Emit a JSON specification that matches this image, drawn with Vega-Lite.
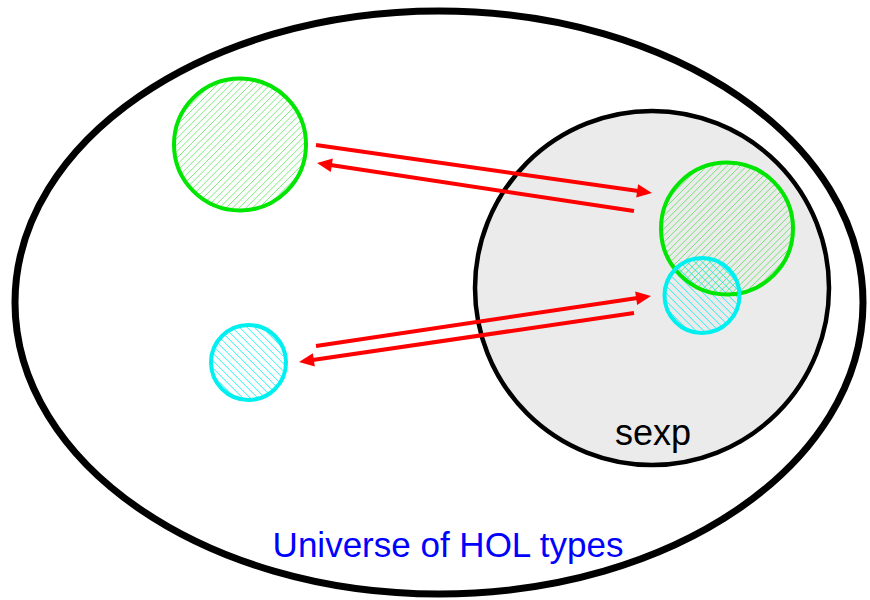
{
  "$schema": "https://vega.github.io/schema/vega-lite/v6.json",
  "width": 870,
  "height": 600,
  "padding": 0,
  "autosize": {"type": "none"},
  "background": "white",
  "config": {"view": {"stroke": null}},
  "datasets": {
    "ellipse": [{"name": "universe", "x": 439, "y": 302.5, "r": 424}],
    "circles": [
      {"name": "sexp", "kind": "sexp", "x": 652, "y": 288, "r": 177},
      {"name": "A", "kind": "green", "x": 240, "y": 144.5, "r": 66},
      {"name": "A'", "kind": "green", "x": 727, "y": 228.5, "r": 66},
      {"name": "B", "kind": "cyan", "x": 248.5, "y": 362.5, "r": 37.5},
      {"name": "B'", "kind": "cyan", "x": 702, "y": 295.5, "r": 37.5}
    ],
    "arrows": [
      {"id": 1, "x": 316, "y": 145, "x2": 652, "y2": 193},
      {"id": 2, "x": 634, "y": 211, "x2": 317, "y2": 163},
      {"id": 3, "x": 316, "y": 346, "x2": 651, "y2": 296},
      {"id": 4, "x": 634, "y": 313, "x2": 299, "y2": 362}
    ],
    "labels": [
      {"text": "sexp", "kind": "set", "x": 653, "y": 445},
      {"text": "Universe of HOL types", "kind": "universe", "x": 448, "y": 557}
    ]
  },
  "layer": [
    {
      "data": {"name": "ellipse"},
      "mark": {"type": "point", "shape": "M 1 0 C 1 0.3797 0.5523 0.6875 0 0.6875 C -0.5523 0.6875 -1 0.3797 -1 0 C -1 -0.3797 -0.5523 -0.6875 0 -0.6875 C 0.5523 -0.6875 1 -0.3797 1 0 Z", "filled": false, "stroke": "black", "strokeWidth": 7, "opacity": 1},
      "encoding": {
        "x": {"field": "x", "type": "quantitative", "scale": {"domain": [0, 870], "nice": false, "zero": false}, "axis": null},
        "y": {"field": "y", "type": "quantitative", "scale": {"domain": [0, 600], "nice": false, "zero": false, "reverse": true}, "axis": null},
        "size": {"field": "r", "type": "quantitative", "scale": {"type": "pow", "exponent": 2, "domain": [0, 100], "range": [0, 40000]}, "legend": null}
      }
    },
    {
      "data": {"name": "circles"},
      "transform": [{"filter": "datum.kind === 'sexp'"}],
      "mark": {"type": "point", "shape": "circle", "filled": true, "fill": "#ebebeb", "stroke": "black", "strokeWidth": 4.5, "opacity": 1},
      "encoding": {
        "x": {"field": "x", "type": "quantitative", "scale": {"domain": [0, 870], "nice": false, "zero": false}, "axis": null},
        "y": {"field": "y", "type": "quantitative", "scale": {"domain": [0, 600], "nice": false, "zero": false, "reverse": true}, "axis": null},
        "size": {"field": "r", "type": "quantitative", "scale": {"type": "pow", "exponent": 2, "domain": [0, 100], "range": [0, 40000]}, "legend": null}
      }
    },
    {
      "data": {"name": "circles"},
      "transform": [{"filter": "datum.kind === 'green'"}],
      "mark": {"type": "point", "filled": false, "stroke": "#22dd22", "strokeOpacity": 0.75, "strokeWidth": 0.8, "opacity": 1, "shape": "M -0.6817 0.7317 L 0.7317 -0.6817 M -0.6281 0.7781 L 0.7781 -0.6281 M -0.571 0.821 L 0.821 -0.571 M -0.5101 0.8601 L 0.8601 -0.5101 M -0.4454 0.8954 L 0.8954 -0.4454 M -0.3764 0.9264 L 0.9264 -0.3764 M -0.303 0.953 L 0.953 -0.303 M -0.2245 0.9745 L 0.9745 -0.2245 M -0.1401 0.9901 L 0.9901 -0.1401 M -0.0488 0.9988 L 0.9988 -0.0488 M 0.0513 0.9987 L 0.9987 0.0513 M 0.1634 0.9866 L 0.9866 0.1634 M 0.2943 0.9557 L 0.9557 0.2943 M 0.4643 0.8857 L 0.8857 0.4643 M -0.7317 0.6817 L 0.6817 -0.7317 M -0.7781 0.6281 L 0.6281 -0.7781 M -0.821 0.571 L 0.571 -0.821 M -0.8601 0.5101 L 0.5101 -0.8601 M -0.8954 0.4454 L 0.4454 -0.8954 M -0.9264 0.3764 L 0.3764 -0.9264 M -0.953 0.303 L 0.303 -0.953 M -0.9745 0.2245 L 0.2245 -0.9745 M -0.9901 0.1401 L 0.1401 -0.9901 M -0.9988 0.0488 L 0.0488 -0.9988 M -0.9987 -0.0513 L -0.0513 -0.9987 M -0.9866 -0.1634 L -0.1634 -0.9866 M -0.9557 -0.2943 L -0.2943 -0.9557 M -0.8857 -0.4643 L -0.4643 -0.8857"},
      "encoding": {
        "x": {"field": "x", "type": "quantitative", "scale": {"domain": [0, 870], "nice": false, "zero": false}, "axis": null},
        "y": {"field": "y", "type": "quantitative", "scale": {"domain": [0, 600], "nice": false, "zero": false, "reverse": true}, "axis": null},
        "size": {"field": "r", "type": "quantitative", "scale": {"type": "pow", "exponent": 2, "domain": [0, 100], "range": [0, 40000]}, "legend": null}
      }
    },
    {
      "data": {"name": "circles"},
      "transform": [{"filter": "datum.kind === 'cyan'"}],
      "mark": {"type": "point", "filled": false, "stroke": "#00eeee", "strokeOpacity": 0.85, "strokeWidth": 1, "opacity": 1, "shape": "M 0.6553 0.7553 L -0.7553 -0.6553 M 0.541 0.841 L -0.841 -0.541 M 0.4114 0.9114 L -0.9114 -0.4114 M 0.2644 0.9644 L -0.9644 -0.2644 M 0.0954 0.9954 L -0.9954 -0.0954 M -0.1056 0.9944 L -0.9944 0.1056 M -0.3716 0.9284 L -0.9284 0.3716 M -0.6553 -0.7553 L 0.7553 0.6553 M -0.541 -0.841 L 0.841 0.541 M -0.4114 -0.9114 L 0.9114 0.4114 M -0.2644 -0.9644 L 0.9644 0.2644 M -0.0954 -0.9954 L 0.9954 0.0954 M 0.1056 -0.9944 L 0.9944 -0.1056 M 0.3716 -0.9284 L 0.9284 -0.3716"},
      "encoding": {
        "x": {"field": "x", "type": "quantitative", "scale": {"domain": [0, 870], "nice": false, "zero": false}, "axis": null},
        "y": {"field": "y", "type": "quantitative", "scale": {"domain": [0, 600], "nice": false, "zero": false, "reverse": true}, "axis": null},
        "size": {"field": "r", "type": "quantitative", "scale": {"type": "pow", "exponent": 2, "domain": [0, 100], "range": [0, 40000]}, "legend": null}
      }
    },
    {
      "data": {"name": "circles"},
      "transform": [{"filter": "datum.kind === 'green'"}],
      "mark": {"type": "point", "shape": "circle", "filled": false, "stroke": "#00e600", "strokeWidth": 4, "opacity": 1},
      "encoding": {
        "x": {"field": "x", "type": "quantitative", "scale": {"domain": [0, 870], "nice": false, "zero": false}, "axis": null},
        "y": {"field": "y", "type": "quantitative", "scale": {"domain": [0, 600], "nice": false, "zero": false, "reverse": true}, "axis": null},
        "size": {"field": "r", "type": "quantitative", "scale": {"type": "pow", "exponent": 2, "domain": [0, 100], "range": [0, 40000]}, "legend": null}
      }
    },
    {
      "data": {"name": "circles"},
      "transform": [{"filter": "datum.kind === 'cyan'"}],
      "mark": {"type": "point", "shape": "circle", "filled": false, "stroke": "#00f0f0", "strokeWidth": 4, "opacity": 1},
      "encoding": {
        "x": {"field": "x", "type": "quantitative", "scale": {"domain": [0, 870], "nice": false, "zero": false}, "axis": null},
        "y": {"field": "y", "type": "quantitative", "scale": {"domain": [0, 600], "nice": false, "zero": false, "reverse": true}, "axis": null},
        "size": {"field": "r", "type": "quantitative", "scale": {"type": "pow", "exponent": 2, "domain": [0, 100], "range": [0, 40000]}, "legend": null}
      }
    },
    {
      "data": {"name": "arrows"},
      "transform": [
        {"calculate": "atan2(datum.y2 - datum.y, datum.x2 - datum.x)", "as": "th"},
        {"calculate": "datum.x2 - 12 * cos(datum.th)", "as": "xe"},
        {"calculate": "datum.y2 - 12 * sin(datum.th)", "as": "ye"}
      ],
      "mark": {"type": "rule", "stroke": "#ff0000", "strokeWidth": 4},
      "encoding": {
        "x": {"field": "x", "type": "quantitative", "scale": {"domain": [0, 870], "nice": false, "zero": false}, "axis": null},
        "y": {"field": "y", "type": "quantitative", "scale": {"domain": [0, 600], "nice": false, "zero": false, "reverse": true}, "axis": null},
        "x2": {"field": "xe"},
        "y2": {"field": "ye"}
      }
    },
    {
      "data": {"name": "arrows"},
      "transform": [
        {"calculate": "atan2(datum.y2 - datum.y, datum.x2 - datum.x) * 180 / PI", "as": "deg"}
      ],
      "mark": {"type": "point", "shape": "M 0 0 L -2 -0.9 L -2 0.9 Z", "filled": true, "fill": "#ff0000", "strokeWidth": 0, "opacity": 1, "size": 225},
      "encoding": {
        "x": {"field": "x2", "type": "quantitative", "scale": {"domain": [0, 870], "nice": false, "zero": false}, "axis": null},
        "y": {"field": "y2", "type": "quantitative", "scale": {"domain": [0, 600], "nice": false, "zero": false, "reverse": true}, "axis": null},
        "angle": {"field": "deg", "type": "quantitative", "scale": null}
      }
    },
    {
      "data": {"name": "labels"},
      "transform": [{"filter": "datum.kind === 'set'"}],
      "mark": {"type": "text", "font": "Liberation Sans", "fontSize": 36, "align": "center", "baseline": "alphabetic", "color": "black"},
      "encoding": {
        "x": {"field": "x", "type": "quantitative", "scale": {"domain": [0, 870], "nice": false, "zero": false}, "axis": null},
        "y": {"field": "y", "type": "quantitative", "scale": {"domain": [0, 600], "nice": false, "zero": false, "reverse": true}, "axis": null},
        "text": {"field": "text"}
      }
    },
    {
      "data": {"name": "labels"},
      "transform": [{"filter": "datum.kind === 'universe'"}],
      "mark": {"type": "text", "font": "Liberation Sans", "fontSize": 35, "align": "center", "baseline": "alphabetic", "color": "#0000ff"},
      "encoding": {
        "x": {"field": "x", "type": "quantitative", "scale": {"domain": [0, 870], "nice": false, "zero": false}, "axis": null},
        "y": {"field": "y", "type": "quantitative", "scale": {"domain": [0, 600], "nice": false, "zero": false, "reverse": true}, "axis": null},
        "text": {"field": "text"}
      }
    }
  ]
}
